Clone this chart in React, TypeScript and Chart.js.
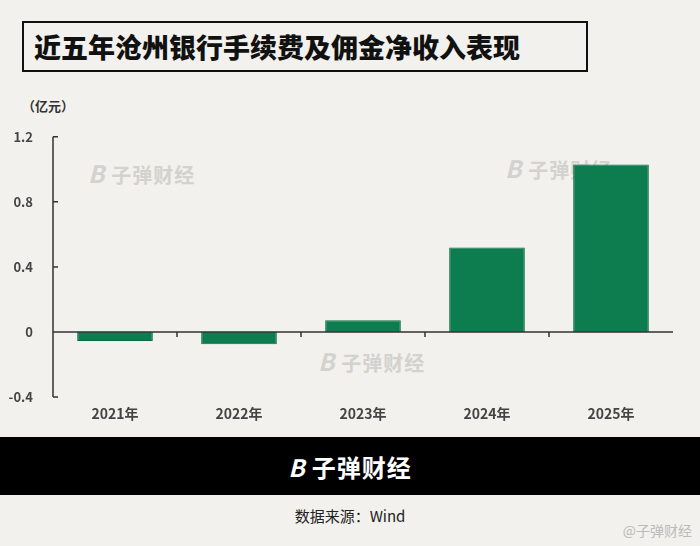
import { useEffect, useRef } from "react"
import { Chart, registerables, type Plugin } from "chart.js"

Chart.register(...registerables)

const categories = ["2021年", "2022年", "2023年", "2024年", "2025年"]
const income = [-0.055, -0.075, 0.072, 0.52, 1.03]
const yTicks = [-0.4, 0, 0.4, 0.8, 1.2]

const FONT = "'Noto Sans CJK SC', 'Noto Sans', sans-serif"
const BG = "#f2f1ed"

// draws the zero baseline, left axis ticks and category separators
const axesPlugin: Plugin<"bar"> = {
  id: "axes",
  afterDatasetsDraw(chart) {
    const { ctx, scales, chartArea } = chart
    const y = scales.y
    const x = scales.x
    const y0 = y.getPixelForValue(0)
    ctx.save()
    ctx.strokeStyle = "#333"
    ctx.lineWidth = 1.5
    ctx.beginPath()
    ctx.moveTo(chartArea.left, y0)
    ctx.lineTo(chartArea.right, y0)
    ctx.moveTo(chartArea.left, chartArea.top)
    ctx.lineTo(chartArea.left, chartArea.bottom)
    yTicks.forEach((v) => {
      const p = y.getPixelForValue(v)
      ctx.moveTo(chartArea.left, p)
      ctx.lineTo(chartArea.left + 5, p)
    })
    for (let i = 1; i < categories.length; i++) {
      const p = (x.getPixelForValue(i - 1) + x.getPixelForValue(i)) / 2
      ctx.moveTo(p, y0)
      ctx.lineTo(p, y0 + 5)
    }
    ctx.stroke()
    ctx.restore()
  },
}

function Watermark({ left, top }: { left: number; top: number }) {
  return (
    <div style={{ position: "absolute", left, top, color: "#d3d2ce", fontWeight: 700, fontSize: 20, fontFamily: FONT, letterSpacing: 1 }}>
      <span style={{ fontStyle: "italic", fontSize: 24, marginRight: 6 }}>B</span>子弹财经
    </div>
  )
}

export default function App() {
  const chartRef = useRef<HTMLCanvasElement>(null)
  const chartInstance = useRef<Chart | null>(null)

  useEffect(() => {
    if (!chartRef.current) return
    const ctx = chartRef.current.getContext("2d")
    if (!ctx) return
    if (chartInstance.current) chartInstance.current.destroy()

    chartInstance.current = new Chart(ctx, {
      type: "bar",
      data: {
        labels: categories,
        datasets: [
          {
            data: income,
            backgroundColor: "#0d7c4f",
            borderColor: "#0a6a43",
            borderWidth: 1,
            categoryPercentage: 0.61,
            barPercentage: 1,
          },
        ],
      },
      options: {
        responsive: false,
        animation: false,
        layout: { padding: { left: 0, right: 27, top: 0, bottom: 0 } },
        plugins: { legend: { display: false }, tooltip: { enabled: false } },
        scales: {
          x: {
            grid: { display: false },
            border: { display: false },
            afterFit: (s) => {
              s.height = 35
            },
            ticks: { color: "#444", font: { family: FONT, size: 14, weight: "bold" }, padding: 0 },
          },
          y: {
            min: -0.4,
            max: 1.2,
            afterBuildTicks: (s) => {
              s.ticks = yTicks.map((v) => ({ value: v }))
            },
            afterFit: (s) => {
              s.width = 53
            },
            grid: { display: false },
            border: { display: false },
            ticks: {
              color: "#444",
              padding: 12,
              font: { family: FONT, size: 13, weight: "bold" },
              callback: (v) => String(Number(v)),
            },
          },
        },
      },
      plugins: [axesPlugin],
    })

    return () => {
      if (chartInstance.current) chartInstance.current.destroy()
    }
  }, [])

  return (
    <div style={{ position: "fixed", left: 0, top: 0, width: 700, height: 546, background: BG, overflow: "hidden", fontFamily: FONT }}>
      <div style={{ position: "absolute", left: 22, top: 21, width: 566, height: 51, border: "2px solid #111", boxSizing: "border-box", display: "flex", alignItems: "center", paddingLeft: 10, fontSize: 27, fontWeight: 900, color: "#111" }}>
        近五年沧州银行手续费及佣金净收入表现
      </div>
      <div style={{ position: "absolute", left: 22, top: 96, fontSize: 13, fontWeight: 700, color: "#333" }}>（亿元）</div>
      <Watermark left={88} top={155} />
      <Watermark left={505} top={150} />
      <Watermark left={318} top={343} />
      <canvas ref={chartRef} width={700} height={315} style={{ position: "absolute", left: 0, top: 117 }} />
      <div style={{ position: "absolute", left: 0, top: 437, width: 700, height: 58, background: "#000", display: "flex", alignItems: "center", justifyContent: "center", color: "#fff", fontSize: 24, fontWeight: 700, letterSpacing: 1 }}>
        <span style={{ fontStyle: "italic", marginRight: 6 }}>B</span>子弹财经
      </div>
      <div style={{ position: "absolute", left: 0, top: 505, width: 700, textAlign: "center", fontSize: 15, color: "#222" }}>数据来源：Wind</div>
      <div style={{ position: "absolute", right: 8, top: 520, fontSize: 14, color: "#bbb" }}>@子弹财经</div>
    </div>
  )
}
